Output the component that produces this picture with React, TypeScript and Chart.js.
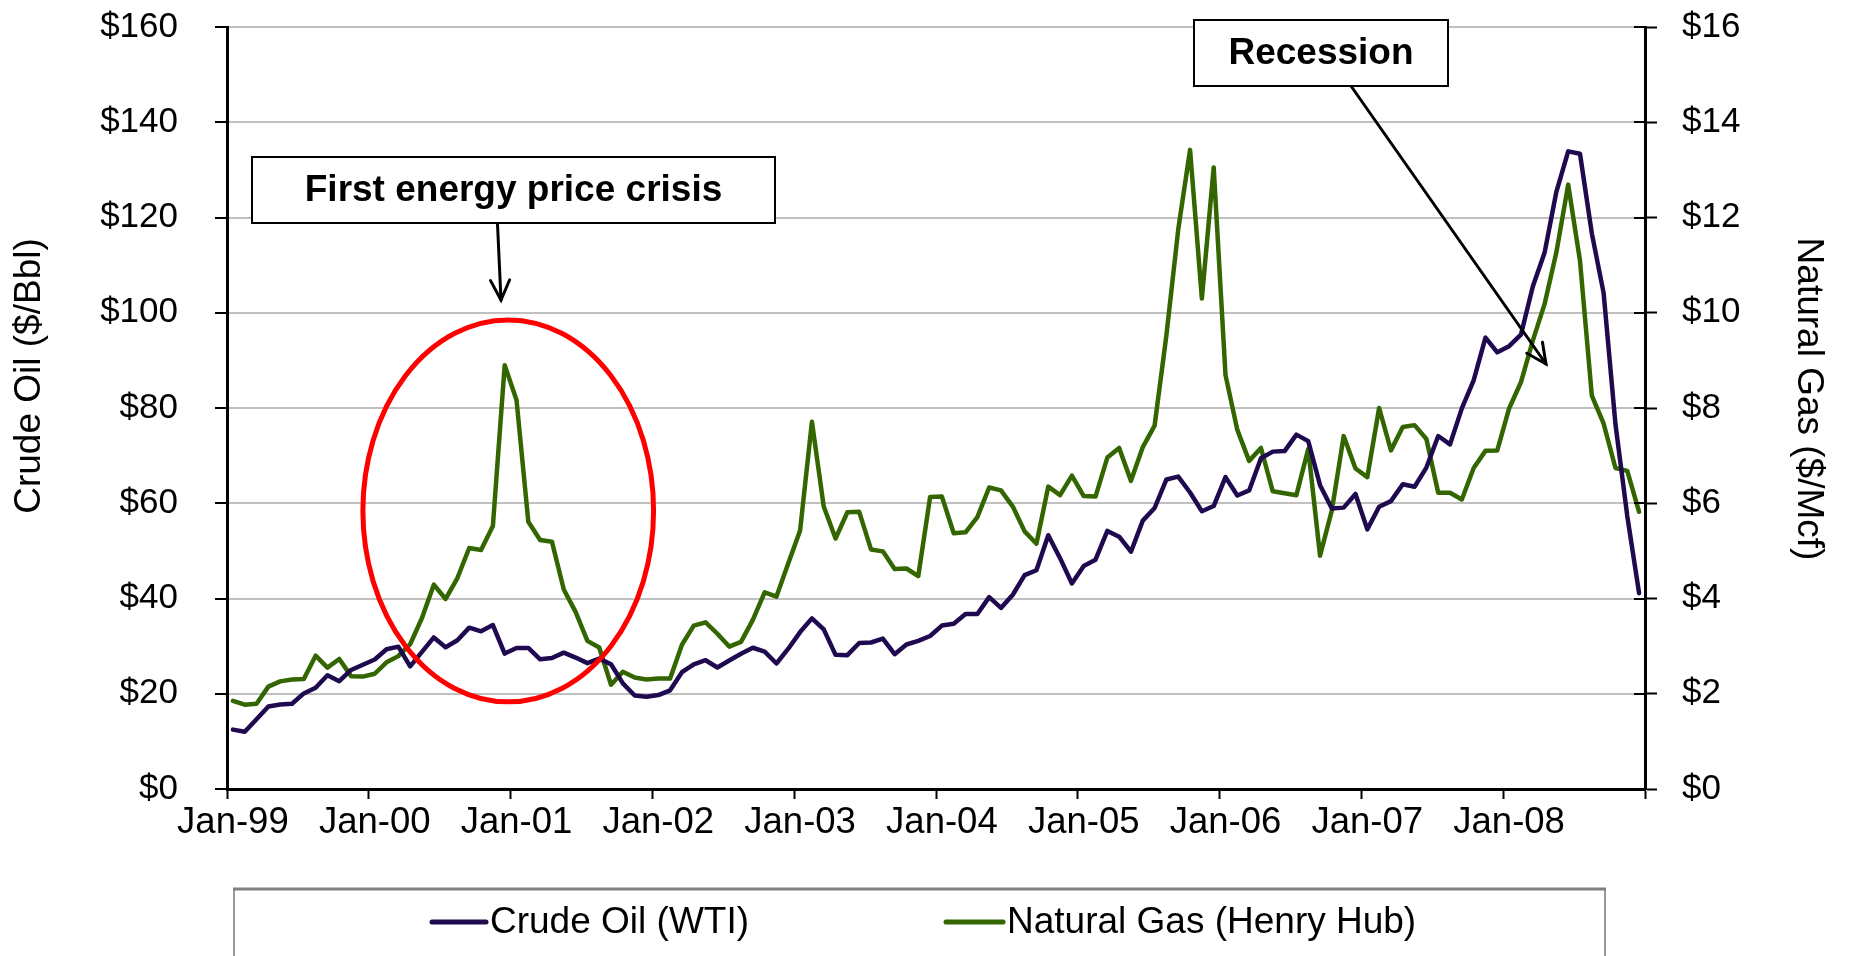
import React, { useEffect, useRef } from 'react';
import { Chart, registerables } from 'chart.js';

Chart.register(...registerables);

// ---------------- data ----------------
const monthNames = ['Jan', 'Feb', 'Mar', 'Apr', 'May', 'Jun', 'Jul', 'Aug', 'Sep', 'Oct', 'Nov', 'Dec'];
const yearCodes = ['99', '00', '01', '02', '03', '04', '05', '06', '07', '08'];
const categories = yearCodes.flatMap((y) => monthNames.map((m) => `${m}-${y}`));

const tickLabels = ['Jan-99', 'Jan-00', 'Jan-01', 'Jan-02', 'Jan-03', 'Jan-04', 'Jan-05', 'Jan-06', 'Jan-07', 'Jan-08'];
const oilTickValues = [0, 20, 40, 60, 80, 100, 120, 140, 160];
const gasTickValues = [0, 2, 4, 6, 8, 10, 12, 14, 16];

// Crude Oil (WTI), $/Bbl, monthly Jan-99 .. Dec-08
const crudeOil = [
  12.47, 12.01, 14.66, 17.34, 17.75, 17.89, 20.07, 21.26, 23.88, 22.64, 25.0, 26.1,
  27.18, 29.35, 29.89, 25.74, 28.78, 31.83, 29.77, 31.22, 33.88, 33.11, 34.42, 28.44,
  29.59, 29.61, 27.24, 27.49, 28.63, 27.6, 26.43, 27.37, 26.2, 22.17, 19.64, 19.39,
  19.72, 20.72, 24.53, 26.18, 27.04, 25.52, 26.97, 28.39, 29.66, 28.84, 26.35, 29.46,
  32.95, 35.83, 33.51, 28.17, 28.11, 30.66, 30.76, 31.57, 28.31, 30.34, 31.11, 32.13,
  34.31, 34.69, 36.74, 36.75, 40.28, 38.03, 40.78, 44.9, 45.94, 53.28, 48.47, 43.15,
  46.84, 48.15, 54.19, 52.98, 49.83, 56.35, 59.0, 64.99, 65.59, 62.26, 58.32, 59.41,
  65.49, 61.63, 62.69, 69.44, 70.84, 70.95, 74.41, 73.04, 63.8, 58.89, 59.08, 61.96,
  54.51, 59.28, 60.44, 63.98, 63.46, 67.49, 74.12, 72.36, 79.92, 85.8, 94.77, 91.69,
  92.97, 95.39, 105.45, 112.58, 125.4, 133.88, 133.37, 116.67, 104.11, 76.61, 57.31, 41.12,
];

// Natural Gas (Henry Hub), $/Mcf, monthly Jan-99 .. Dec-08
const naturalGas = [
  1.85, 1.77, 1.79, 2.15, 2.26, 2.3, 2.31, 2.8, 2.55, 2.73, 2.37, 2.36,
  2.42, 2.66, 2.79, 3.04, 3.59, 4.29, 3.99, 4.43, 5.06, 5.02, 5.52, 8.9,
  8.17, 5.61, 5.23, 5.19, 4.19, 3.72, 3.11, 2.97, 2.19, 2.46, 2.34, 2.3,
  2.32, 2.32, 3.03, 3.43, 3.5, 3.26, 2.99, 3.09, 3.55, 4.13, 4.04, 4.74,
  5.43, 7.71, 5.93, 5.26, 5.81, 5.82, 5.03, 4.99, 4.62, 4.63, 4.47, 6.13,
  6.14, 5.37, 5.39, 5.71, 6.33, 6.27, 5.93, 5.41, 5.15, 6.35, 6.17, 6.58,
  6.15, 6.14, 6.96, 7.16, 6.47, 7.18, 7.63, 9.53, 11.75, 13.42, 10.3, 13.05,
  8.69, 7.54, 6.89, 7.16, 6.25, 6.21, 6.17, 7.14, 4.9, 5.85, 7.41, 6.73,
  6.55, 8.0, 7.11, 7.6, 7.64, 7.35, 6.22, 6.22, 6.08, 6.74, 7.1, 7.11,
  7.99, 8.54, 9.41, 10.18, 11.27, 12.69, 11.09, 8.26, 7.67, 6.74, 6.68, 5.82,
];

const seriesLabels = ['Crude Oil (WTI)', 'Natural Gas (Henry Hub)'];

// ---------------- styles ----------------
const FONT = "'Liberation Sans', Arial, Helvetica, sans-serif";
const OIL_COLOR = '#1f0a4f';
const GAS_COLOR = '#336600';
const GRID_COLOR = '#c0c0c0';

// annotation geometry (ellipse in data units, boxes in pixels)
const crisisEllipse = { centerIndex: 23.3, centerValue: 58.4, radiusMonths: 12.3, radiusValue: 40.1 };
const crisisBox = { x: 252, y: 157, w: 523, h: 66, text: 'First energy price crisis' };
const recessionBox = { x: 1194, y: 20, w: 254, h: 66, text: 'Recession' };
const crisisArrow = { x1: 497.5, y1: 224, x2: 501, y2: 300 };
const recessionArrow = { x1: 1351, y1: 86, x2: 1546, y2: 364 };

function drawArrow(ctx: CanvasRenderingContext2D, a: { x1: number; y1: number; x2: number; y2: number }) {
  const head = 22;
  const ang = 0.45;
  ctx.beginPath();
  ctx.moveTo(a.x1, a.y1);
  ctx.lineTo(a.x2, a.y2);
  ctx.stroke();
  const t = Math.atan2(a.y2 - a.y1, a.x2 - a.x1);
  ctx.beginPath();
  ctx.moveTo(a.x2 - head * Math.cos(t - ang), a.y2 - head * Math.sin(t - ang));
  ctx.lineTo(a.x2, a.y2);
  ctx.lineTo(a.x2 - head * Math.cos(t + ang), a.y2 - head * Math.sin(t + ang));
  ctx.stroke();
}

function drawBox(ctx: CanvasRenderingContext2D, b: { x: number; y: number; w: number; h: number; text: string }) {
  ctx.fillStyle = '#ffffff';
  ctx.fillRect(b.x, b.y, b.w, b.h);
  ctx.strokeStyle = '#000000';
  ctx.lineWidth = 2;
  ctx.strokeRect(b.x, b.y, b.w, b.h);
  ctx.fillStyle = '#000000';
  ctx.font = `bold 37px ${FONT}`;
  ctx.textAlign = 'center';
  ctx.textBaseline = 'middle';
  ctx.fillText(b.text, b.x + b.w / 2, b.y + b.h / 2 + 1);
}

const overlayPlugin = {
  id: 'overlay',
  afterDatasetsDraw(chart: any) {
    const ctx: CanvasRenderingContext2D = chart.ctx;
    const xs = chart.scales.x;
    const ys = chart.scales.y;
    ctx.save();
    const cx = xs.getPixelForValue(crisisEllipse.centerIndex);
    const cy = ys.getPixelForValue(crisisEllipse.centerValue);
    const rx = xs.getPixelForValue(crisisEllipse.centerIndex + crisisEllipse.radiusMonths) - cx;
    const ry = cy - ys.getPixelForValue(crisisEllipse.centerValue + crisisEllipse.radiusValue);
    ctx.beginPath();
    ctx.ellipse(cx, cy, rx, ry, 0, 0, Math.PI * 2);
    ctx.strokeStyle = '#ff0000';
    ctx.lineWidth = 5;
    ctx.stroke();
    ctx.restore();
  },
  afterDraw(chart: any) {
    const ctx: CanvasRenderingContext2D = chart.ctx;
    const area = chart.chartArea;
    const y1 = chart.scales.y1;
    ctx.save();

    // inward tick marks on the right axis
    ctx.strokeStyle = '#000';
    ctx.lineWidth = 2;
    y1.ticks.forEach((t: any) => {
      const py = Math.round(y1.getPixelForValue(t.value));
      ctx.beginPath();
      ctx.moveTo(area.right - 11, py);
      ctx.lineTo(area.right, py);
      ctx.stroke();
    });

    // arrows and boxes
    ctx.strokeStyle = '#000';
    ctx.lineWidth = 3;
    ctx.lineCap = 'round';
    drawArrow(ctx, crisisArrow);
    drawArrow(ctx, recessionArrow);
    ctx.lineCap = 'butt';
    drawBox(ctx, crisisBox);
    drawBox(ctx, recessionBox);

    // axis titles
    ctx.fillStyle = '#000';
    ctx.font = `37px ${FONT}`;
    ctx.textAlign = 'center';
    ctx.textBaseline = 'middle';
    ctx.save();
    ctx.translate(30, 376);
    ctx.rotate(-Math.PI / 2);
    ctx.fillText('Crude Oil ($/Bbl)', 0, 0);
    ctx.restore();
    ctx.save();
    ctx.translate(1808, 399);
    ctx.rotate(Math.PI / 2);
    ctx.fillText('Natural Gas ($/Mcf)', 0, 0);
    ctx.restore();

    // legend box
    const lx = 234;
    const ly = 889;
    const lw = 1371;
    ctx.fillStyle = '#fff';
    ctx.fillRect(lx, ly, lw, 80);
    ctx.strokeStyle = '#999999';
    ctx.lineWidth = 2;
    ctx.beginPath();
    ctx.moveTo(lx, 960);
    ctx.lineTo(lx, ly);
    ctx.moveTo(lx + lw, ly);
    ctx.lineTo(lx + lw, 960);
    ctx.stroke();
    ctx.strokeStyle = '#808080';
    ctx.lineWidth = 3;
    ctx.beginPath();
    ctx.moveTo(lx - 1, ly);
    ctx.lineTo(lx + lw + 1, ly);
    ctx.stroke();

    const items = [
      { sx1: 432, sx2: 486, tx: 490 },
      { sx1: 946, sx2: 1003, tx: 1007 },
    ];
    const legY = 922;
    chart.data.datasets.forEach((ds: any, i: number) => {
      const it = items[i];
      ctx.strokeStyle = ds.borderColor;
      ctx.lineWidth = 5;
      ctx.lineCap = 'round';
      ctx.beginPath();
      ctx.moveTo(it.sx1, legY);
      ctx.lineTo(it.sx2, legY);
      ctx.stroke();
      ctx.fillStyle = '#000';
      ctx.font = `37px ${FONT}`;
      ctx.textAlign = 'left';
      ctx.textBaseline = 'middle';
      ctx.fillText(ds.label, it.tx, legY + 1);
    });
    ctx.restore();
  },
};

export default function App() {
  const canvasRef = useRef<HTMLCanvasElement | null>(null);

  useEffect(() => {
    if (!canvasRef.current) return;
    Chart.defaults.font.family = FONT;
    const chart = new Chart(canvasRef.current, {
      type: 'line',
      data: {
        labels: categories,
        datasets: [
          {
            label: seriesLabels[0],
            data: crudeOil,
            yAxisID: 'y',
            borderColor: OIL_COLOR,
            backgroundColor: OIL_COLOR,
            borderWidth: 4.5,
            pointRadius: 0,
            tension: 0,
            borderJoinStyle: 'round',
            borderCapStyle: 'round',
          },
          {
            label: seriesLabels[1],
            data: naturalGas,
            yAxisID: 'y1',
            borderColor: GAS_COLOR,
            backgroundColor: GAS_COLOR,
            borderWidth: 4.5,
            pointRadius: 0,
            tension: 0,
            borderJoinStyle: 'round',
            borderCapStyle: 'round',
            order: 0,
          },
        ],
      },
      options: {
        animation: false,
        responsive: true,
        maintainAspectRatio: false,
        events: [],
        layout: { padding: { top: 27, bottom: 107, left: 0, right: 0 } },
        plugins: {
          legend: { display: false },
          tooltip: { enabled: false },
          title: { display: false },
        },
        scales: {
          x: {
            type: 'category',
            offset: true,
            grid: {
              offset: true,
              drawOnChartArea: false,
              drawTicks: true,
              tickLength: 10,
              tickWidth: 2,
              tickColor: (c: any) => (c.type !== 'tick' || c.index % 12 === 0 ? '#000000' : 'rgba(0,0,0,0)'),
            },
            border: { color: '#000000', width: 3 },
            ticks: {
              autoSkip: false,
              maxRotation: 0,
              minRotation: 0,
              padding: 2,
              color: '#000000',
              font: { size: 36.5 },
              callback: (_v: any, i: number) => (i % 12 === 0 ? tickLabels[i / 12] : ''),
            },
            afterFit: (s: any) => {
              s.height = 60;
              s.paddingLeft = 0;
              s.paddingRight = 0;
            },
          },
          y: {
            position: 'left',
            min: 0,
            max: 160,
            afterBuildTicks: (s: any) => {
              s.ticks = oilTickValues.map((v) => ({ value: v }));
            },
            ticks: {
              padding: 37,
              color: '#000000',
              font: { size: 35 },
              callback: (v: any) => '$' + v,
            },
            grid: {
              color: (c: any) => (c.tick && c.tick.value === 0 ? 'rgba(0,0,0,0)' : GRID_COLOR),
              lineWidth: 2,
              drawTicks: true,
              tickLength: 12,
              tickWidth: 2,
              tickColor: '#000000',
            },
            border: { color: '#000000', width: 3 },
            afterFit: (s: any) => {
              s.width = 227;
              s.paddingTop = 0;
              s.paddingBottom = 0;
            },
          },
          y1: {
            position: 'right',
            min: 0,
            max: 16,
            afterBuildTicks: (s: any) => {
              s.ticks = gasTickValues.map((v) => ({ value: v }));
            },
            ticks: {
              padding: 25,
              color: '#000000',
              font: { size: 35 },
              callback: (v: any) => '$' + v,
            },
            grid: {
              drawOnChartArea: false,
              drawTicks: true,
              tickLength: 12,
              tickWidth: 2,
              tickColor: '#000000',
            },
            border: { color: '#000000', width: 3 },
            afterFit: (s: any) => {
              s.width = 208;
              s.paddingTop = 0;
              s.paddingBottom = 0;
            },
          },
        },
      } as any,
      plugins: [overlayPlugin],
    });
    return () => chart.destroy();
  }, []);

  return (
    <div style={{ position: 'fixed', left: 0, top: 0, width: 1853, height: 956, background: '#ffffff' }}>
      <canvas ref={canvasRef} />
    </div>
  );
}
